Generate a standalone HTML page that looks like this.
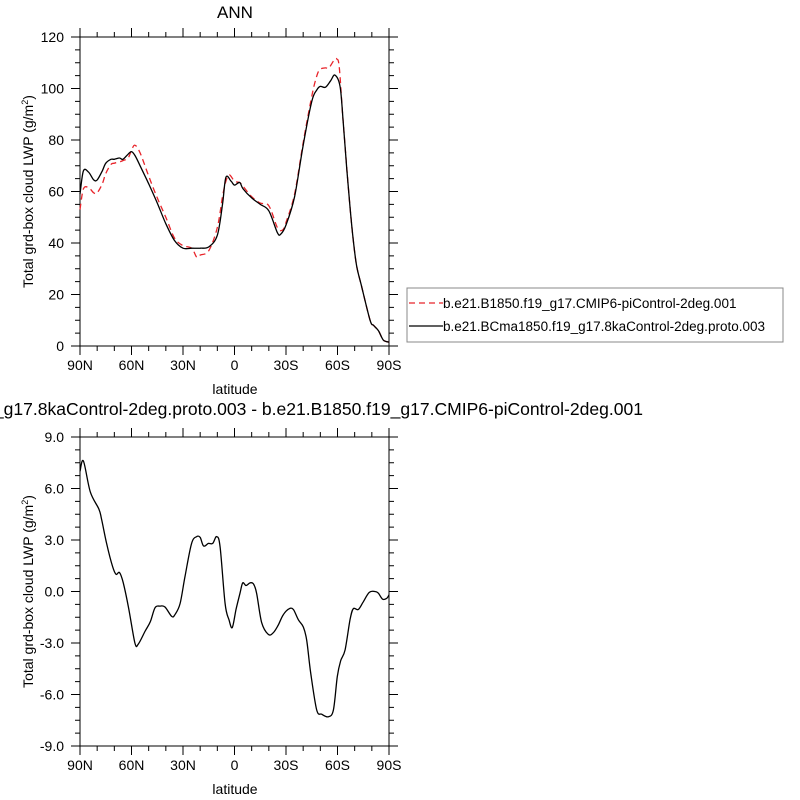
<!DOCTYPE html>
<html><head><meta charset="utf-8"><style>
html,body{margin:0;padding:0;background:#fff;}
svg{display:block;font-family:"Liberation Sans",Arial,sans-serif;}
</style></head><body>
<svg id="c" width="800" height="800" viewBox="0 0 800 800"></svg>
<script>
// data
const latBlack=[90,88,85,82,80,77,75,72,70,67,65,62,60,58,55,50,45,40,35,30,25,20,15,10,7,5,2,0,-3,-5,-10,-15,-20,-25,-27,-30,-35,-40,-45,-48,-50,-53,-56,-58.5,-61.5,-63.4,-65.3,-67.3,-69.2,-71.2,-74.1,-79,-81,-83.8,-86.7,-90];
const valBlack=[59,68,67.5,64.5,64.5,68,71,72.5,72.5,73,72.5,74.5,75.5,74,70,63,55.5,47.5,41,38,38,38,38.5,43,55,65.5,64,62.5,63.5,61,57.5,55,52.5,44,43.5,47,58,78,95,99.5,100.8,100.5,103,105.2,100.7,86.5,69.6,54,41,31,23,10,8,6,2.3,1.5];
const latRed=[90,88,85,82,80,77,75,72,70,67,65,62,60,58,55,50,45,40,35,30,25,22,20,15,10,7,5,3,0,-3,-5,-10,-15,-20,-25,-28,-30,-35,-40,-45,-48,-50,-53,-55,-58,-59.5,-61,-63,-65.3,-67.3,-69.2,-71.2,-74.1,-79,-81,-83.8,-86.7,-90];
const valRed=[53,61,61.5,59.5,59.5,63,67,70.5,71,71.5,72,73,76,78,75,66,57.5,50,42,39,38,34.5,35.3,37,46,58,64,66.5,64,63.5,62,58,55.5,54.5,46,45,48,59,79,97,105,107.5,108,108,111,111.5,108.5,90,70,54,41,31,23,10,8,6,2.3,1.5];
const latDiff=[90,88,84,79,77.4,74.5,71,69,67,64.8,61.8,58,56,52,49,46.3,43.4,40.5,36.6,34.7,31.7,28.8,25,22,20,18,15.2,12.7,10.4,8.4,5.5,3.2,1.3,-0.9,-3.2,-4.8,-6.7,-9,-11,-12.9,-15.8,-19.7,-22.6,-25.5,-28.4,-31.9,-34.3,-37.2,-40,-42,-44.4,-47.9,-50.8,-54.7,-57.6,-59.9,-61.8,-64.4,-67.3,-69.2,-72.1,-75,-78.5,-81.8,-83.8,-86.3,-88.6,-90];
const valDiff=[7.0,7.6,5.8,4.8,4.2,2.8,1.45,1.0,1.1,0.5,-0.9,-3.0,-3.05,-2.3,-1.75,-0.95,-0.85,-0.9,-1.45,-1.35,-0.7,0.9,2.8,3.2,3.15,2.65,2.8,2.8,3.2,2.6,-0.7,-1.65,-2.1,-1.05,-0.1,0.5,0.35,0.5,0.45,-0.1,-1.8,-2.5,-2.4,-1.95,-1.35,-1.0,-1.05,-1.65,-2.05,-2.8,-4.75,-6.9,-7.15,-7.3,-6.9,-4.95,-4.05,-3.4,-1.65,-1.0,-1.05,-0.6,-0.05,0,-0.1,-0.45,-0.4,-0.2];
const xTickLat=[90,60,30,0,-30,-60,-90];
const xTickLabels=["90N","60N","30N","0","30S","60S","90S"];
const yTicksTop=[0,20,40,60,80,100,120];
const yTicksBot=[-9,-6,-3,0,3,6,9];

const NS="http://www.w3.org/2000/svg";
const svg=document.getElementById('c');
function mk(tag,attrs,parent){const e=document.createElementNS(NS,tag);for(const k in attrs)e.setAttribute(k,attrs[k]);(parent||svg).appendChild(e);return e;}
const L=80,R=389;
const xS=lat=>L+(90-lat)/180*(R-L);

function panel(top,bot,ymin,ymax,yticks,fmt,name){
  const g=mk('g',{});
  
  
  const yS=v=>bot-(v-ymin)/(ymax-ymin)*(bot-top);
  mk('rect',{x:L,y:top,width:R-L,height:bot-top,fill:'none',stroke:'#000','stroke-width':1},g);
  for(let lat=90;lat>=-90;lat-=10){
    const major=lat%30===0, x=xS(lat), len=major?9:5;
    mk('line',{x1:x,x2:x,y1:bot,y2:bot+len,stroke:'#000'},g);
    mk('line',{x1:x,x2:x,y1:top,y2:top-len,stroke:'#000'},g);
  }
  xTickLat.forEach((lat,i)=>{const t=mk('text',{x:xS(lat),y:bot+24,'text-anchor':'middle','font-size':14},g);t.textContent=xTickLabels[i];
    
    });
  const stp=(yticks[1]-yticks[0]);
  for(let k=0;k<=24;k++){
    const v=ymin+k*stp/4, y=yS(v), len=(k%4===0)?9:5;
    mk('line',{x1:L,x2:L-len,y1:y,y2:y,stroke:'#000'},g);
    mk('line',{x1:R,x2:R+len,y1:y,y2:y,stroke:'#000'},g);
  }
  yticks.forEach(v=>{const t=mk('text',{x:64,y:yS(v)+5,'text-anchor':'end','font-size':14},g);t.textContent=fmt(v);
    
    });
  const xl=mk('text',{x:235,y:bot+48,'text-anchor':'middle','font-size':14},g);xl.textContent='latitude';
  
  
  const yl=mk('text',{x:0,y:0,'text-anchor':'middle','font-size':14,transform:`translate(33,${(top+bot)/2}) rotate(-90)`},g);
  yl.innerHTML='Total grd-box cloud LWP (g/m<tspan dy="-5" font-size="9">2</tspan><tspan dy="5">)</tspan>';
  
  
  return yS;
}
function line(lats,vals,yS,color,dash,name){
  const P=lats.map((lat,i)=>[xS(lat),yS(vals[i])]);
  let d='M'+P[0][0].toFixed(1)+','+P[0][1].toFixed(1);
  for(let i=0;i<P.length-1;i++){
    const p0=P[Math.max(0,i-1)],p1=P[i],p2=P[i+1],p3=P[Math.min(P.length-1,i+2)];
    const c1=[p1[0]+(p2[0]-p0[0])/6,p1[1]+(p2[1]-p0[1])/6];
    const c2=[p2[0]-(p3[0]-p1[0])/6,p2[1]-(p3[1]-p1[1])/6];
    d+=` C${c1[0].toFixed(1)},${c1[1].toFixed(1)} ${c2[0].toFixed(1)},${c2[1].toFixed(1)} ${p2[0].toFixed(1)},${p2[1].toFixed(1)}`;
  }
  const p=mk('path',{d:d,fill:'none',stroke:color,'stroke-width':1.3,'stroke-dasharray':dash||'none','stroke-linejoin':'round'});
  
  
}
const yTop=panel(37,346,0,120,yTicksTop,v=>String(v),'top-panel');
line(latRed,valRed,yTop,'#e8242a','6,4','series-piControl');
line(latBlack,valBlack,yTop,'#000',null,'series-8kaControl');
const yBot=panel(437,746,-9,9,yTicksBot,v=>v.toFixed(1),'bottom-panel');
line(latDiff,valDiff,yBot,'#000',null,'series-difference');

const t1=mk('text',{x:235,y:18,'text-anchor':'middle','font-size':17});t1.textContent='ANN';


const t2=mk('text',{x:643,y:415,'text-anchor':'end','font-size':17.55});t2.textContent='b.e21.BCma1850.f19_g17.8kaControl-2deg.proto.003 - b.e21.B1850.f19_g17.CMIP6-piControl-2deg.001';



const lg=mk('g',{});


mk('rect',{x:407,y:288,width:376,height:54,fill:'none',stroke:'#888'},lg);
mk('line',{x1:409,x2:443,y1:303,y2:303,stroke:'#e8242a','stroke-width':1.3,'stroke-dasharray':'6,4'},lg);
mk('line',{x1:409,x2:443,y1:326,y2:326,stroke:'#000','stroke-width':1.3},lg);
const l1=mk('text',{x:443,y:308,'font-size':13.5},lg);l1.textContent='b.e21.B1850.f19_g17.CMIP6-piControl-2deg.001';


const l2=mk('text',{x:443,y:331,'font-size':13.5},lg);l2.textContent='b.e21.BCma1850.f19_g17.8kaControl-2deg.proto.003';


</script>
</body></html>
